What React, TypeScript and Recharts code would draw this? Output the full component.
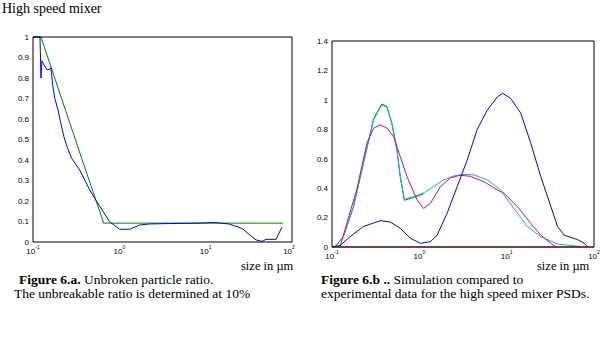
import React from "react";
import { LineChart, Line, XAxis, YAxis } from "recharts";

// log axis, one label per decade
const decadeTicks = [0.1, 1, 10, 100];
const decadeExps = ["-1", "0", "1", "2"];
const ratioTicks = [0, 0.1, 0.2, 0.3, 0.4, 0.5, 0.6, 0.7, 0.8, 0.9, 1];
const psdTicks = [0, 0.2, 0.4, 0.6, 0.8, 1, 1.2, 1.4];

// Figure 6.a - unbroken particle ratio
const ratioModelX = [0.1, 0.1236, 0.365, 0.659, 78.5];
const ratioModelY = [1, 1, 0.41, 0.092, 0.092];
const ratioExpX = [
  0.1, 0.1205, 0.1236, 0.127, 0.134, 0.145, 0.157, 0.161, 0.164, 0.17, 0.179,
  0.195, 0.21, 0.228, 0.248, 0.28, 0.348, 0.454, 0.547, 0.773, 1.007, 1.314,
  1.715, 2.236, 3.8, 8.43, 12.56, 18.7, 26.4, 38.3, 45.0, 50.0, 65.2, 76.5,
];
const ratioExpY = [
  1, 1, 0.8, 0.884, 0.864, 0.84, 0.843, 0.85, 0.82, 0.757, 0.7, 0.644, 0.579,
  0.514, 0.465, 0.408, 0.351, 0.254, 0.197, 0.099, 0.062, 0.062, 0.083, 0.088,
  0.09, 0.092, 0.095, 0.088, 0.066, 0.01, 0.003, 0.013, 0.013, 0.072,
];

// Figure 6.b - PSDs
const psdExpX = [
  0.1, 0.1236, 0.161, 0.227, 0.356, 0.464, 0.605, 0.789, 1.026, 1.337, 1.596,
  2.08, 2.71, 3.53, 4.6, 6.0, 7.82, 9.0, 11.1, 14.5, 18.9, 24.6, 32.1, 38.3,
  45.6, 65.0, 77.5, 84.7,
];
const psdExpY = [
  0, 0.01, 0.07, 0.138, 0.179, 0.17, 0.127, 0.06, 0.025, 0.036, 0.08, 0.23,
  0.41, 0.59, 0.8, 0.93, 1.02, 1.045, 1.01, 0.91, 0.705, 0.478, 0.274, 0.138,
  0.08, 0.05, 0.025, 0,
];
const psdSimAX = [
  0.1236, 0.1476, 0.192, 0.251, 0.299, 0.356, 0.425, 0.507, 0.605, 0.722,
  0.942, 1.12, 1.337, 1.74, 2.27, 2.96, 3.85, 5.48, 7.82, 9.31, 13.3, 18.9,
  24.6, 32.1, 36.6,
];
const psdSimAY = [
  0, 0.16, 0.39, 0.705, 0.807, 0.83, 0.81, 0.75, 0.614, 0.478, 0.32, 0.262,
  0.296, 0.41, 0.47, 0.488, 0.48, 0.444, 0.388, 0.365, 0.274, 0.16, 0.08,
  0.025, 0,
];
const psdSimBX = [
  0.108, 0.135, 0.176, 0.229, 0.299, 0.372, 0.425, 0.485, 0.554, 0.605, 0.673,
  0.86, 1.12, 1.46, 1.9, 2.48, 3.23, 4.21, 6.0, 8.53, 12.1, 17.3, 24.6, 38.3,
  65.0, 71.0,
];
const psdSimBY = [
  0, 0.07, 0.274, 0.57, 0.864, 0.966, 0.95, 0.84, 0.66, 0.478, 0.324, 0.342,
  0.368, 0.41, 0.456, 0.483, 0.494, 0.49, 0.456, 0.388, 0.262, 0.138, 0.07,
  0.02, 0.005, 0,
];
const psdSimCX = [
  0.108, 0.135, 0.176, 0.229, 0.299, 0.372, 0.425, 0.485, 0.554, 0.605, 0.673,
  0.86, 1.12,
];
const psdSimCY = [
  0, 0.07, 0.274, 0.57, 0.87, 0.972, 0.955, 0.84, 0.66, 0.478, 0.318, 0.336,
  0.362,
];
const baseX = [0.1, 100];
const baseY = [0, 0];

const zip = (xs: number[], ys: number[]) => xs.map((x, i) => ({ x, y: ys[i] }));

// 2..9 in every decade, for the little inner ticks
const minorTicks: number[] = [];
[0.1, 1, 10].forEach((d) => {
  for (let m = 1; m < 10; m++) minorTicks.push(+(m * d).toPrecision(3));
});
minorTicks.push(100);

const sans = "Liberation Sans, Arial, sans-serif";
const serif = "Liberation Serif, Times New Roman, serif";

const PowerTick = ({ x, y, payload }: any) => {
  const i = decadeTicks.indexOf(payload.value);
  return (
    <text x={x} y={y + 12} textAnchor="middle" fontSize={8} fontFamily={sans} fill="#000">
      <tspan>10</tspan>
      <tspan fontSize={5} dy={-5}>{decadeExps[i]}</tspan>
    </text>
  );
};

const xDomain: [number, number] = [0.1, 100];

function LogFrame({ yTicks, yMax }: { yTicks: number[]; yMax: number }) {
  return (
    <>
      <XAxis xAxisId="b" dataKey="x" type="number" scale="log" domain={xDomain} allowDataOverflow
        ticks={decadeTicks} tickLine={false} tickSize={0} tickMargin={0} height={20}
        axisLine={{ stroke: "#000" }} tick={<PowerTick />} />
      <XAxis xAxisId="bm" type="number" scale="log" domain={xDomain} allowDataOverflow mirror
        ticks={minorTicks} tick={false} axisLine={false} tickSize={3} tickLine={{ stroke: "#000" }} />
      <XAxis xAxisId="t" orientation="top" type="number" scale="log" domain={xDomain} allowDataOverflow mirror
        ticks={minorTicks} tick={false} axisLine={{ stroke: "#000" }} tickSize={3} tickLine={{ stroke: "#000" }} />
      <YAxis yAxisId="l" type="number" domain={[0, yMax]} ticks={yTicks} width={32}
        tickLine={false} tickSize={0} tickMargin={4} axisLine={{ stroke: "#000" }}
        tick={{ fontSize: 8, fill: "#000", fontFamily: sans }} />
      <YAxis yAxisId="lm" type="number" domain={[0, yMax]} ticks={yTicks} mirror tick={false}
        axisLine={false} tickSize={3} tickLine={{ stroke: "#000" }} />
      <YAxis yAxisId="r" orientation="right" type="number" domain={[0, yMax]} ticks={yTicks} mirror
        tick={false} axisLine={{ stroke: "#000" }} tickSize={3} tickLine={{ stroke: "#000" }} />
    </>
  );
}

const series = (data: any[], color: string, key: string) => (
  <Line key={key} xAxisId="b" yAxisId="l" data={data} dataKey="y" type="linear" stroke={color}
    strokeWidth={1} dot={false} isAnimationActive={false} />
);

export default function App() {
  return (
    <div style={{ position: "absolute", left: 0, top: 0, width: 607, height: 340, background: "#fff" }}>
      <svg width={607} height={340} style={{ position: "absolute", left: 0, top: 0 }}>
        <g fontFamily={serif} fill="#000">
          <text x={2} y={13} fontSize={14}>High speed mixer</text>
          <text x={241} y={270} fontSize={12.5}>size in µm</text>
          <text x={537} y={270} fontSize={12.5}>size in µm</text>
          <text x={19} y={284} fontSize={13.5}>
            <tspan fontWeight="bold">Figure 6.a.</tspan> Unbroken particle ratio.
          </text>
          <text x={14} y={298} fontSize={13.5}>The unbreakable ratio is determined at 10%</text>
          <text x={321} y={284} fontSize={13.5}>
            <tspan fontWeight="bold">Figure 6.b ..</tspan> Simulation compared to
          </text>
          <text x={321} y={298} fontSize={13.5}>experimental data for the high speed mixer PSDs.</text>
        </g>
      </svg>

      <div style={{ position: "absolute", left: 1, top: 0 }}>
        <LineChart width={300} height={270} margin={{ top: 37, right: 9, left: 0, bottom: 8 }}>
          {LogFrame({ yTicks: ratioTicks, yMax: 1 })}
          {series(zip(ratioModelX, ratioModelY), "#008000", "model")}
          {series(zip(ratioExpX, ratioExpY), "#0000ff", "exp")}
        </LineChart>
      </div>

      <div style={{ position: "absolute", left: 300, top: 0 }}>
        <LineChart width={307} height={270} margin={{ top: 41, right: 13, left: 0, bottom: 3 }}>
          {LogFrame({ yTicks: psdTicks, yMax: 1.4 })}
          {series(zip(psdSimCX, psdSimCY), "#008000", "simC")}
          {series(zip(psdSimBX, psdSimBY), "#00bfbf", "simB")}
          {series(zip(psdSimAX, psdSimAY), "#cc00cc", "simA")}
          {series(zip(psdExpX, psdExpY), "#0000ff", "exp")}
          {series(zip(baseX, baseY), "#ff0000", "base")}
        </LineChart>
      </div>
    </div>
  );
}
